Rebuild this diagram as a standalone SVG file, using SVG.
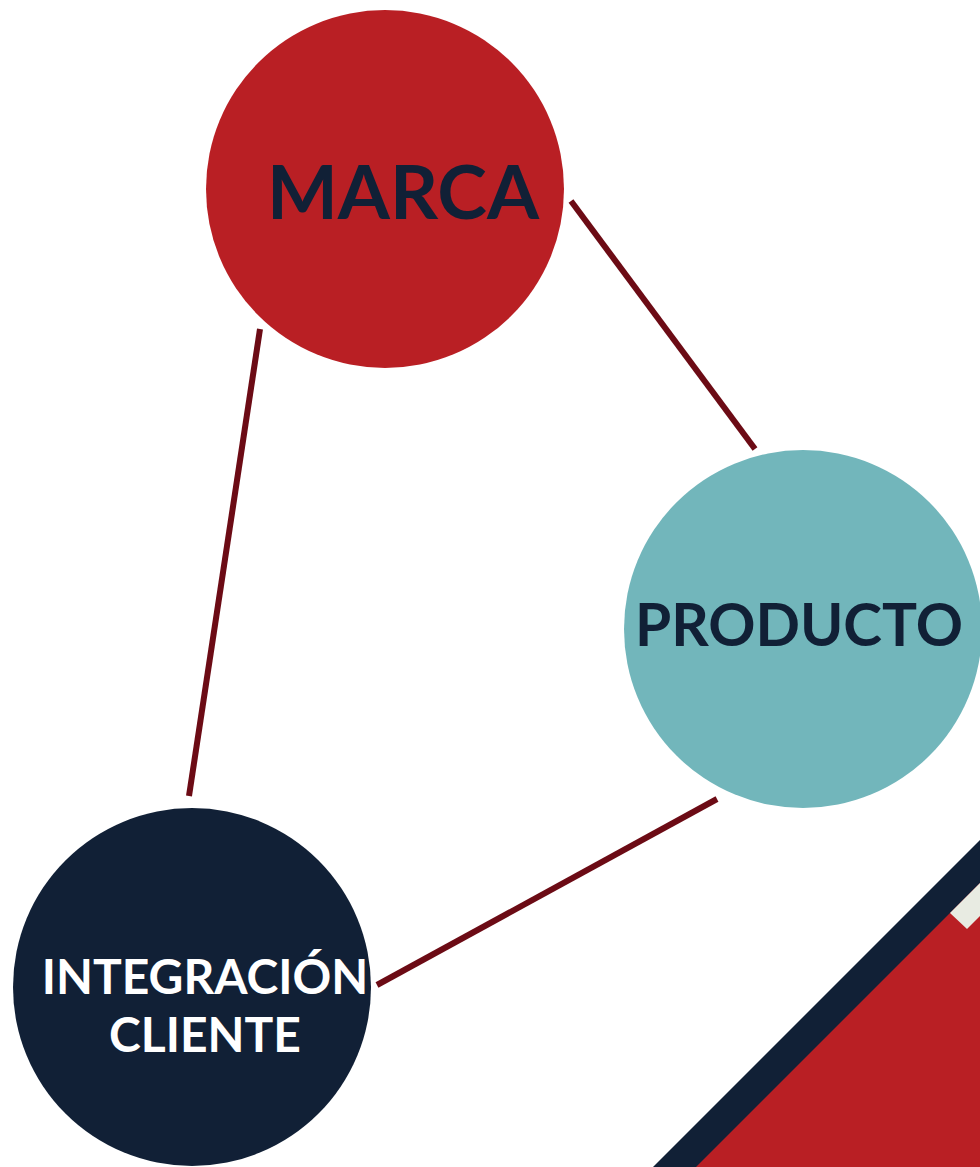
<svg xmlns="http://www.w3.org/2000/svg" width="980" height="1167" viewBox="0 0 980 1167">
<style>
.lbl{font-family:Lato,"Liberation Sans",sans-serif;font-weight:bold;text-anchor:middle}
.conn{stroke:#6c0b15;stroke-width:6;fill:none}
</style>
<rect width="980" height="1167" fill="#ffffff"/>
<g id="decor">
<polygon points="653,1167 980,840 980,1167" fill="#112036"/>
<polygon points="696,1167 980,883 980,1167" fill="#b91f24"/>
<polygon points="950,913 980,883 980,916 967,929" fill="#e8ebe2"/>
</g>
<g id="connectors">
<line class="conn" x1="571" y1="201" x2="755" y2="449"/>
<line class="conn" x1="260" y1="329" x2="189" y2="796"/>
<line class="conn" x1="377" y1="985" x2="717" y2="799"/>
</g>
<g id="marca">
<circle cx="385" cy="189" r="179" fill="#b91f24"/>
<text class="lbl" x="403" y="219" font-size="75" fill="#112036">MARCA</text>
</g>
<g id="producto">
<circle cx="803" cy="629" r="179" fill="#72b6bb"/>
<text class="lbl" x="799" y="646" font-size="58.5" fill="#112036">PRODUCTO</text>
</g>
<g id="integracion">
<circle cx="192" cy="987" r="179" fill="#112036"/>
<text class="lbl" x="205" y="994" font-size="48" fill="#ffffff">INTEGRACIÓN</text>
<text class="lbl" x="205" y="1052" font-size="48" fill="#ffffff">CLIENTE</text>
</g>
</svg>
